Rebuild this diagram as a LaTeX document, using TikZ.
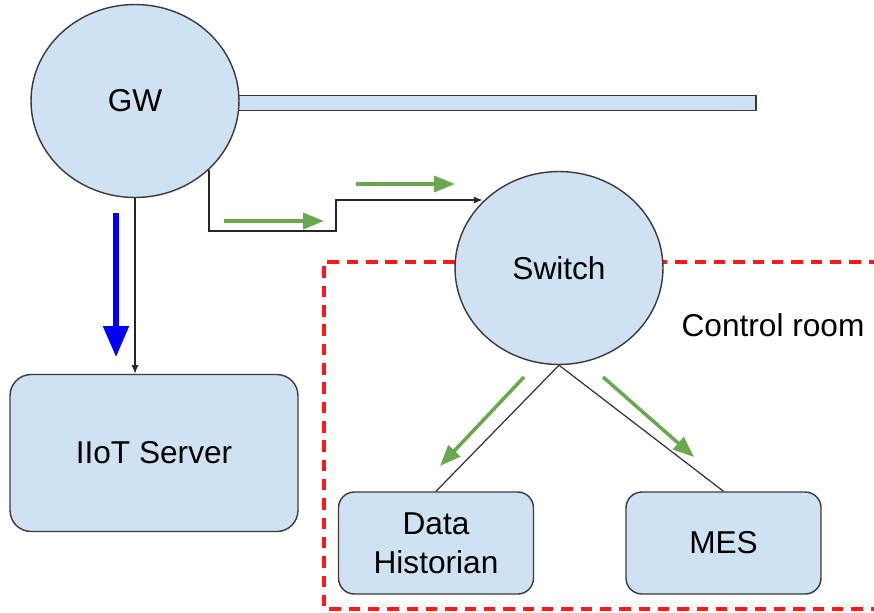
\documentclass[tikz,border=0pt]{standalone}
\usepackage{fontspec}
\setmainfont{Liberation Sans}
\usetikzlibrary{arrows.meta, positioning, shapes.geometric}
\definecolor{boxblue}{HTML}{CFE2F3}
\definecolor{edgegray}{HTML}{3A3A3A}
\definecolor{flowgreen}{HTML}{6AA84F}

\begin{document}
\begin{tikzpicture}[x=0.02cm, y=-0.02cm,
		every node/.style={font=\fontsize{18}{22}\selectfont, align=center},
		device/.style={
			ellipse,
			draw=edgegray,
			line width=0.8pt,
			fill=boxblue,
			inner sep=0pt,
			minimum width=4.16cm,
			minimum height=3.86cm
		},
		host/.style={
			rectangle,
			rounded corners=9pt,
			draw=edgegray,
			line width=0.8pt,
			fill=boxblue,
			inner sep=0pt,
			minimum width=3.9cm,
			minimum height=2.04cm
		},
		pipe/.style={
			rectangle,
			draw=edgegray,
			line width=0.8pt,
			fill=boxblue,
			inner sep=0pt,
			minimum width=10.4cm,
			minimum height=0.3cm
		},
		link/.style={-{Latex[length=5pt,width=4pt]}, line width=0.7pt, color=black!85},
		plain/.style={line width=0.7pt, color=black!80},
		flow/.style={-{Triangle[length=0.42cm,width=0.32cm]}, line width=2pt, color=flowgreen},
		bigflow/.style={-{Triangle[length=0.62cm,width=0.5cm]}, line width=3pt, color=blue},
		zone/.style={dash pattern=on 6.5pt off 4.5pt, line width=2pt, color=red!90}
		]
		
		\useasboundingbox (0,0) rectangle (874,612);
		
		% --- Control room zone ---
		\draw[zone] (880,262) -- (324,262) -- (324,609) -- (880,609);
		\node[anchor=center] (room) at (773,325) {Control room};
		
		% --- Gateway with its bus ---
		\node[pipe] (bus) at (496,103) {};
		\node[device] (GW) at (135,101) {GW};
		
		% --- Switch ---
		\node[device, minimum height=3.86cm] (Switch) at (559,268) {Switch};
		
		% --- Hosts ---
		\node[host, rounded corners=12pt, minimum width=5.76cm, minimum height=3.14cm] (Server) at (154,453) {IIoT Server};
		\node[host] (Historian) at (436,543) {Data\\Historian};
		\node[host] (MES) at (723.5,543) {MES};
		
		% --- Links ---
		\coordinate (stepA) at (336,231);
		\coordinate (stepB) at (336,200);
		\draw[link] (GW.south east) |- (stepA) -- (stepB) -- (stepB -| Switch.139);
		\draw[link] (GW.south) -- (GW.south |- Server.north);
		\draw[plain] (Switch.south) -- (Historian.north);
		\draw[plain] (Switch.south) -- (MES.north);
		
		% --- Data flow arrows ---
		\coordinate (blueS) at (116,213);
		\coordinate (blueE) at (116,357);
		\draw[bigflow] (blueS) -- (blueE);
		
		\coordinate (lowS) at (224,221);
		\coordinate (lowE) at (324,221);
		\coordinate (upS) at (356,184);
		\coordinate (upE) at (455,184);
		\coordinate (leftS) at (524,377);
		\coordinate (leftE) at (440,466);
		\coordinate (rightS) at (603,377);
		\coordinate (rightE) at (694,457);
		\draw[flow] (lowS) -- (lowE);
		\draw[flow] (upS) -- (upE);
		\draw[flow] (leftS) -- (leftE);
		\draw[flow] (rightS) -- (rightE);
		
	\end{tikzpicture}
\end{document}
